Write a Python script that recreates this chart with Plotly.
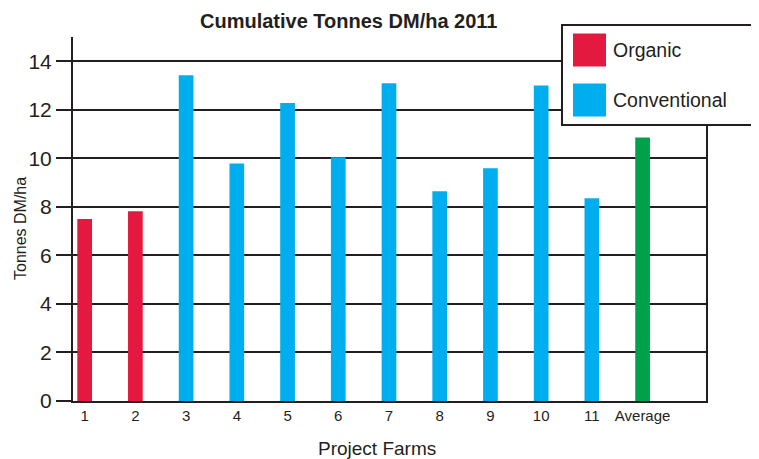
import plotly.graph_objects as go

farms = ["1", "2", "3", "4", "5", "6", "7", "8", "9", "10", "11", "Average"]
values = [7.5, 7.82, 13.42, 9.79, 12.28, 10.04, 13.09, 8.64, 9.59, 13.0, 8.35, 10.86]
groups = ["Organic", "Organic"] + ["Conventional"] * 9 + ["Average"]
colors_map = {"Organic": "#E4193F", "Conventional": "#00AEEF", "Average": "#00A14B"}
legend_items = ["Organic", "Conventional"]
y_ticks = [0, 2, 4, 6, 8, 10, 12, 14]

INK = "#231F20"
FONT = "Liberation Sans, Arial, sans-serif"

fig = go.Figure()
fig.add_trace(go.Bar(
    x=farms, y=values,
    marker=dict(color=[colors_map[g] for g in groups], line=dict(width=0)),
    width=0.29, showlegend=False,
))

# page has an 8px body margin; work in page coordinates and subtract it
OFF = 8
PW, PH = 759, 459
W, H = PW - OFF, PH - OFF
left, right, top, bottom = 73, 706, 37, 401  # page coords of plot area
ml = left - OFF
mr = PW - right
mt = top - OFF
mb = PH - bottom

fig.update_layout(
    width=W, height=H,
    margin=dict(l=ml, r=mr, t=mt, b=mb, pad=0),
    paper_bgcolor="white", plot_bgcolor="white",
    font=dict(family=FONT, color=INK),
    showlegend=False,
    xaxis=dict(
        type="category", range=[-0.23, 12.25],
        showgrid=False, showline=True, linecolor=INK, linewidth=2,
        ticks="", tickfont=dict(size=15, color=INK),
    ),
    yaxis=dict(
        range=[0, 15], tickvals=y_ticks,
        showgrid=True, gridcolor=INK, gridwidth=2,
        zeroline=False,
        showline=True, linecolor=INK, linewidth=2, mirror=True,
        ticks="outside", ticklen=15, tickwidth=2, tickcolor=INK,
        tickfont=dict(size=21, color=INK),
    ),
)

pw = right - left
ph = bottom - top
def px(x):
    return (x - left) / pw
def py(y):
    return (bottom - y) / ph

annotations = [
    dict(text="<b>Cumulative Tonnes DM/ha 2011</b>", x=px(349), y=py(21),
         xref="paper", yref="paper", showarrow=False, font=dict(size=20, color=INK),
         xanchor="center", yanchor="middle"),
    dict(text="Project Farms", x=px(377), y=py(448),
         xref="paper", yref="paper", showarrow=False, font=dict(size=19, color=INK),
         xanchor="center", yanchor="middle"),
    dict(text="Tonnes DM/ha", x=px(20), y=py(229), textangle=-90,
         xref="paper", yref="paper", showarrow=False, font=dict(size=16, color=INK),
         xanchor="center", yanchor="middle"),
]

shapes = [
    dict(type="rect", xref="paper", yref="paper", x0=px(562), x1=px(757), y0=py(125), y1=py(25),
         fillcolor="white", line=dict(color=INK, width=2), layer="above"),
]
for i, name in enumerate(legend_items):
    cy = 50 + i * 50
    shapes.append(dict(type="rect", xref="paper", yref="paper",
                       x0=px(573), x1=px(606), y0=py(cy + 16.5), y1=py(cy - 16.5),
                       fillcolor=colors_map[name], line=dict(width=0), layer="above"))
    annotations.append(dict(text=name, x=px(611), y=py(cy), xref="paper", yref="paper",
                            showarrow=False, xanchor="left", yanchor="middle",
                            font=dict(size=19.5, color=INK)))

fig.update_layout(annotations=annotations, shapes=shapes)
fig.write_html("out.html")
